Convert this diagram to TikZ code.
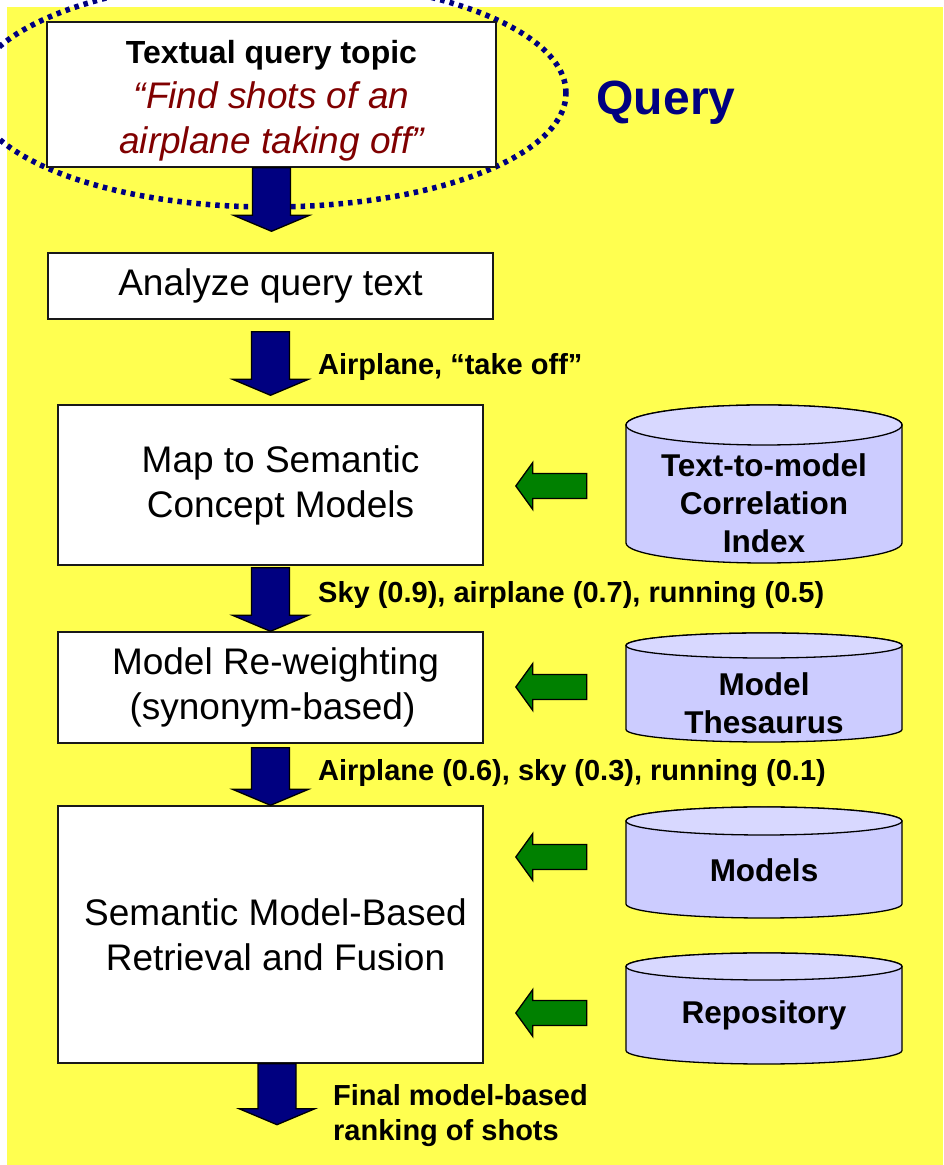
\documentclass[tikz,border=0pt]{standalone}
\usepackage{fontspec}
\setmainfont{Liberation Sans}
\usetikzlibrary{calc}

\definecolor{bgyellow}{HTML}{FFFF50}
\definecolor{navyblue}{HTML}{000080}
\definecolor{darkgreen}{HTML}{008000}
\definecolor{cylbody}{HTML}{CCCCFF}
\definecolor{cyltopc}{HTML}{D8D8FF}
\definecolor{quotered}{HTML}{800000}

\tikzset{
  procbox/.style={draw=black!90, line width=1.4pt, fill=white, inner sep=0pt,
    align=center, font=\fontsize{37}{45}\selectfont},
  navyarrow/.style={fill=navyblue, draw=black, line width=1.3pt, line join=miter},
  greenarrow/.style={fill=darkgreen, draw=black, line width=1.3pt, line join=miter},
  flowlabel/.style={anchor=west, inner sep=0pt, align=left,
    font=\fontsize{29}{35}\selectfont\bfseries},
  cylshape/.style={fill=cylbody, draw=black, line width=1.3pt},
  cyltop/.style={fill=cyltopc, draw=black, line width=1.3pt},
  cyltext/.style={align=center, inner sep=0pt,
    font=\fontsize{31.5}{38}\selectfont\bfseries},
  queryring/.style={draw=navyblue, line width=5.5pt, dash pattern=on 4.5pt off 5pt},
}

% block arrow pointing down: #1 = top centre of the shaft, #2 = tip
\newcommand\dnarrow[2]{%
  \draw[navyarrow] let \p1=(#1), \p2=(#2) in
    (\x1-19pt,\y1) -- (\x1+19pt,\y1) -- (\x1+19pt,\y2+16pt) -- (\x1+38pt,\y2+16pt)
    -- (\x1,\y2) -- (\x1-38pt,\y2+16pt) -- (\x1-19pt,\y2+16pt) -- cycle;}

% block arrow pointing left: #1 = centre of its tail
\newcommand\lfarrow[1]{%
  \draw[greenarrow] let \p1=(#1) in
    (\x1,\y1+12.5pt) -- (\x1-54pt,\y1+12.5pt) -- (\x1-54pt,\y1+23.5pt)
    -- (\x1-71pt,\y1) -- (\x1-54pt,\y1-23.5pt) -- (\x1-54pt,\y1-12.5pt)
    -- (\x1,\y1-12.5pt) -- cycle;}

% data store: name, cx, cy, width, height, end radius, text y, text
\newcommand\datastore[8]{%
  \pgfmathsetmacro\storerx{#4/2}%
  \filldraw[cylshape] (#2-\storerx,#3+#5/2-#6) -- (#2-\storerx,#3-#5/2+#6)
    arc[start angle=180, end angle=360, x radius=\storerx, y radius=#6]
    -- (#2+\storerx,#3+#5/2-#6)
    arc[start angle=0, end angle=180, x radius=\storerx, y radius=#6] -- cycle;
  \filldraw[cyltop] (#2,#3+#5/2-#6) ellipse[x radius=\storerx, y radius=#6];
  \node[minimum width=#4, minimum height=#5, inner sep=0pt] (#1) at (#2,#3) {};
  \node[cyltext] (#1t) at (#2,#7) {#8};
}

\begin{document}
\begin{tikzpicture}[x=1pt, y=1pt]
  \useasboundingbox (0,0) rectangle (943,1165);
  \fill[bgyellow] (7,0) rectangle (943,1158);

  % dotted ring round the query
  \draw[queryring] (270,1072) ellipse[x radius=296, y radius=114];

  % process boxes
  \node[procbox, minimum width=449, minimum height=145] (topic) at (271.5,1070.5)
    {{\fontsize{32}{45}\selectfont\bfseries\rule{0pt}{35.5pt}Textual query topic}\\
     {\itshape\color{quotered}“Find shots of an}\\
     {\itshape\color{quotered}airplane taking off”}};
  \node[procbox, minimum width=445, minimum height=66] (analyze) at (270.5,879)
    {Analyze query text};
  \node[procbox, minimum width=425, minimum height=160] (map) at (270.5,680)
    {\hspace*{20pt}Map to Semantic\\\hspace*{20pt}Concept Models};
  \node[procbox, minimum width=425, minimum height=111] (reweight) at (270.5,477.5)
    {\hspace*{10pt}Model Re-weighting\\\hspace*{4pt}(synonym-based)};
  \node[procbox, minimum width=425, minimum height=257] (retrieve) at (270.5,230.5)
    {\hspace*{10pt}Semantic Model-Based\\\hspace*{10pt}Retrieval and Fusion};

  \node[font=\fontsize{48}{58}\selectfont\bfseries, text=navyblue, inner sep=0pt]
    (query) at (666,1062) {Query};

  % flow arrows
  \path (topic.south) coordinate (a1s) (analyze.north) ++(0,21) coordinate (a1e);
  \path (analyze.south) ++(0,-12) coordinate (a2s) (map.north) ++(0,9) coordinate (a2e);
  \path (map.south) ++(0,-2) coordinate (a3s);
  \path (reweight.south) ++(0,-4) coordinate (a4s);
  \path (retrieve.south) ++(6.5,0) coordinate (a5s) ++(0,-61) coordinate (out);
  \dnarrow{a1s}{a1e}
  \dnarrow{a2s}{a2e}
  \dnarrow{a3s}{reweight.north}
  \dnarrow{a4s}{retrieve.north}
  \dnarrow{a5s}{out}

  % labels on the flow
  \node[flowlabel] (l1) at (318,798) {Airplane, “take off”};
  \node[flowlabel] (l2) at (318,570) {Sky (0.9), airplane (0.7), running (0.5)};
  \node[flowlabel] (l3) at (318,392) {Airplane (0.6), sky (0.3), running (0.1)};
  \node[flowlabel] (l4) at (333,49) {Final model-based\\ranking of shots};

  % data stores
  \datastore{index}{764}{681}{276}{158}{20}{662}{Text-to-model\\Correlation\\Index}
  \datastore{thesaurus}{764}{477.5}{276}{109}{12.5}{461.5}{Model\\Thesaurus}
  \datastore{models}{764}{302.5}{276}{111}{14}{295}{Models}
  \datastore{repo}{764}{156.5}{276}{111}{13.5}{150}{Repository}

  % inputs from the stores
  \path (index.west) ++(-39,-2) coordinate (g1);
  \path (thesaurus.west) ++(-39,0.5) coordinate (g2);
  \path (models.west) ++(-39,5.5) coordinate (g3);
  \path (repo.west) ++(-39,-4.5) coordinate (g4);
  \lfarrow{g1}
  \lfarrow{g2}
  \lfarrow{g3}
  \lfarrow{g4}
\end{tikzpicture}
\end{document}
